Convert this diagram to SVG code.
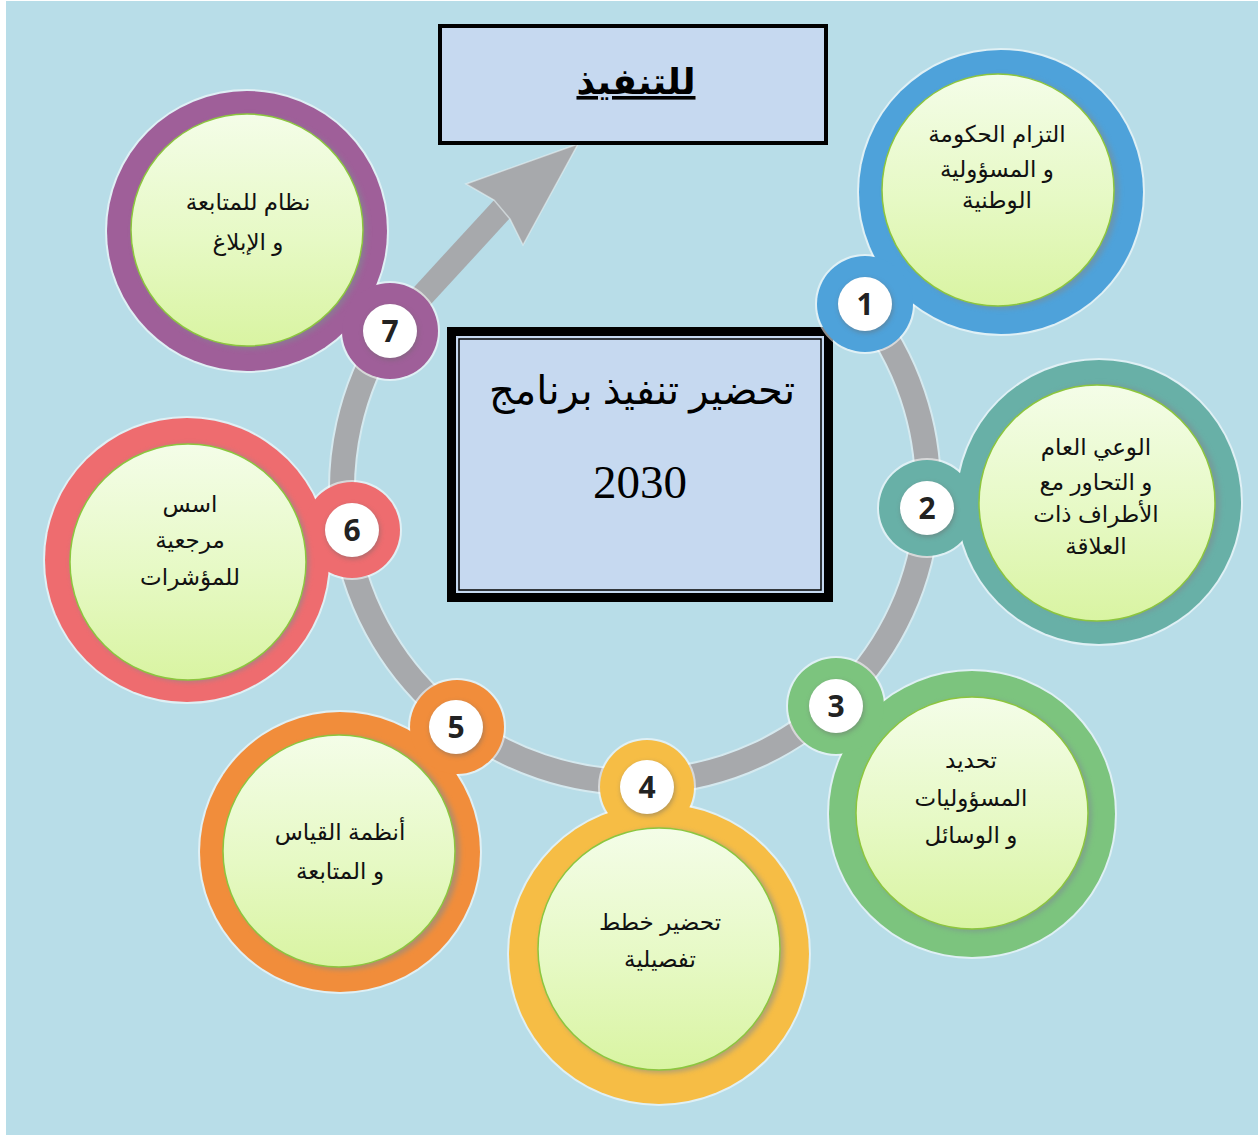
<svg xmlns="http://www.w3.org/2000/svg" width="1258" height="1135" viewBox="0 0 1258 1135">
<style>
.lbl{font-family:"Liberation Sans","DejaVu Sans",sans-serif;font-size:23px;text-anchor:middle;fill:#111;}
.num{font-family:"Open Sans","Liberation Sans",sans-serif;font-weight:700;font-size:30px;text-anchor:middle;fill:#222;}
.inner{fill:url(#lime);stroke:#8cc63e;stroke-width:1.5;}
.shade{fill:#7f8c92;opacity:.55;filter:url(#blur);}
.badge{fill:#fff;}
.bshade{fill:#6a6a6a;opacity:.5;filter:url(#blur);}
.halo{fill:none;stroke:#fff;stroke-opacity:.55;stroke-width:4;}
</style>
<defs>
<linearGradient id="lime" x1="0" y1="0" x2="0" y2="1">
<stop offset="0" stop-color="#f4fde8"/>
<stop offset="0.55" stop-color="#e6f9c4"/>
<stop offset="1" stop-color="#d9f4a2"/>
</linearGradient>
<filter id="blur" x="-20%" y="-20%" width="140%" height="140%"><feGaussianBlur stdDeviation="2.5"/></filter>
</defs>
<rect x="0" y="0" width="1258" height="1135" fill="#ffffff"/>
<rect x="6" y="1" width="1252" height="1134" fill="#b8dde8"/>

<g id="connectors">
<path d="M862.7,304.6 A293,293 0 1 1 388.7,330.3" fill="none" stroke="#e8f2f4" stroke-opacity=".6" stroke-width="28"/>
<path d="M862.7,304.6 A293,293 0 1 1 388.7,330.3" fill="none" stroke="#a7a9ac" stroke-width="24"/>
<line x1="390" y1="331" x2="503" y2="208" stroke="#a7a9ac" stroke-width="24"/>
<polygon points="578,144 466,184 494,200 510,219 523,245" fill="#a7a9ac" stroke="#e8f2f4" stroke-opacity=".6" stroke-width="1.5"/>
</g>

<g id="title">
<rect x="440" y="26" width="386" height="117" fill="#c6d9f0" stroke="#000" stroke-width="4"/>
<text x="636" y="94" font-family="'Liberation Sans','DejaVu Sans',sans-serif" font-size="36" font-weight="700" text-anchor="middle" text-decoration="underline" fill="#000">للتنفيذ</text>
</g>

<g id="center">
<rect x="451.5" y="331.5" width="377" height="266" fill="#c6d9f0" stroke="#000" stroke-width="9"/>
<rect x="459" y="339" width="362" height="251" fill="none" stroke="#000" stroke-width="1.5"/>
<text x="642" y="404" font-family="'Liberation Serif','DejaVu Serif','DejaVu Sans',serif" font-size="40" text-anchor="middle" fill="#000">تحضير  تنفيذ برنامج</text>
<text x="640" y="498" font-family="'Liberation Serif',serif" font-size="47" text-anchor="middle" fill="#000">2030</text>
</g>

<g id="node1">
<circle class="halo" cx="1001" cy="192" r="142"/><circle class="halo" cx="865" cy="304" r="48"/>
<circle cx="1001" cy="192" r="142" fill="#4ea2da"/><circle cx="865" cy="304" r="48" fill="#4ea2da"/>
<circle class="shade" cx="1002" cy="192" r="117"/>
<circle class="inner" cx="998" cy="190" r="116"/>
<circle class="bshade" cx="866" cy="306" r="27"/><circle class="badge" cx="865" cy="304" r="27"/>
<text class="num" x="865" y="315">1</text>
<text class="lbl" x="997" y="142">التزام الحكومة</text>
<text class="lbl" x="997" y="177">و المسؤولية</text>
<text class="lbl" x="997" y="208">الوطنية</text>
</g>

<g id="node2">
<circle class="halo" cx="1099" cy="502" r="142"/><circle class="halo" cx="927" cy="508" r="48"/>
<circle cx="1099" cy="502" r="142" fill="#68b0a7"/><circle cx="927" cy="508" r="48" fill="#68b0a7"/>
<circle class="shade" cx="1101" cy="503" r="119"/>
<circle class="inner" cx="1097" cy="503" r="118"/>
<circle class="bshade" cx="928" cy="510" r="27"/><circle class="badge" cx="927" cy="508" r="27"/>
<text class="num" x="927" y="519">2</text>
<text class="lbl" x="1096" y="455">الوعي العام</text>
<text class="lbl" x="1096" y="490">و التحاور مع</text>
<text class="lbl" x="1096" y="522">الأطراف ذات</text>
<text class="lbl" x="1096" y="554">العلاقة</text>
</g>

<g id="node3">
<circle class="halo" cx="972" cy="814" r="143"/><circle class="halo" cx="836" cy="706" r="48"/>
<circle cx="972" cy="814" r="143" fill="#7cc47e"/><circle cx="836" cy="706" r="48" fill="#7cc47e"/>
<circle class="shade" cx="975" cy="815" r="117"/>
<circle class="inner" cx="972" cy="813" r="116"/>
<circle class="bshade" cx="837" cy="708" r="27"/><circle class="badge" cx="836" cy="706" r="27"/>
<text class="num" x="836" y="717">3</text>
<text class="lbl" x="971" y="768">تحديد</text>
<text class="lbl" x="971" y="806">المسؤوليات</text>
<text class="lbl" x="971" y="843">و الوسائل</text>
</g>

<g id="node4">
<circle class="halo" cx="659" cy="954" r="150"/><circle class="halo" cx="647" cy="787" r="47"/>
<circle cx="659" cy="954" r="150" fill="#f6bd45"/><circle cx="647" cy="787" r="47" fill="#f6bd45"/>
<circle class="shade" cx="662" cy="951" r="122"/>
<circle class="inner" cx="659" cy="949" r="121"/>
<circle class="bshade" cx="648" cy="789" r="27"/><circle class="badge" cx="647" cy="787" r="27"/>
<text class="num" x="647" y="798">4</text>
<text class="lbl" x="660" y="930">تحضير خطط</text>
<text class="lbl" x="660" y="967">تفصيلية</text>
</g>

<g id="node5">
<circle class="halo" cx="340" cy="852" r="140"/><circle class="halo" cx="457" cy="727" r="47"/>
<circle cx="340" cy="852" r="140" fill="#f18d3b"/><circle cx="457" cy="727" r="47" fill="#f18d3b"/>
<circle class="shade" cx="343" cy="853" r="117"/>
<circle class="inner" cx="339" cy="851" r="116"/>
<circle class="bshade" cx="457" cy="729" r="27"/><circle class="badge" cx="456" cy="727" r="27"/>
<text class="num" x="456" y="738">5</text>
<text class="lbl" x="340" y="840">أنظمة القياس</text>
<text class="lbl" x="340" y="879">و المتابعة</text>
</g>

<g id="node6">
<circle class="halo" cx="187" cy="560" r="142"/><circle class="halo" cx="352" cy="530" r="48"/>
<circle cx="187" cy="560" r="142" fill="#ee6c6f"/><circle cx="352" cy="530" r="48" fill="#ee6c6f"/>
<circle class="shade" cx="190" cy="563" r="119"/>
<circle class="inner" cx="188" cy="562" r="118"/>
<circle class="bshade" cx="353" cy="532" r="27"/><circle class="badge" cx="352" cy="530" r="27"/>
<text class="num" x="352" y="541">6</text>
<text class="lbl" x="190" y="512">اسس</text>
<text class="lbl" x="190" y="548">مرجعية</text>
<text class="lbl" x="190" y="585">للمؤشرات</text>
</g>

<g id="node7">
<circle class="halo" cx="247" cy="231" r="140"/><circle class="halo" cx="390" cy="331" r="48"/>
<circle cx="247" cy="231" r="140" fill="#9f5f99"/><circle cx="390" cy="331" r="48" fill="#9f5f99"/>
<circle class="shade" cx="250" cy="232" r="117"/>
<circle class="inner" cx="247" cy="230" r="116"/>
<circle class="bshade" cx="391" cy="333" r="27"/><circle class="badge" cx="390" cy="331" r="27"/>
<text class="num" x="390" y="342">7</text>
<text class="lbl" x="248" y="210">نظام للمتابعة</text>
<text class="lbl" x="248" y="250">و الإبلاغ</text>
</g>
</svg>
